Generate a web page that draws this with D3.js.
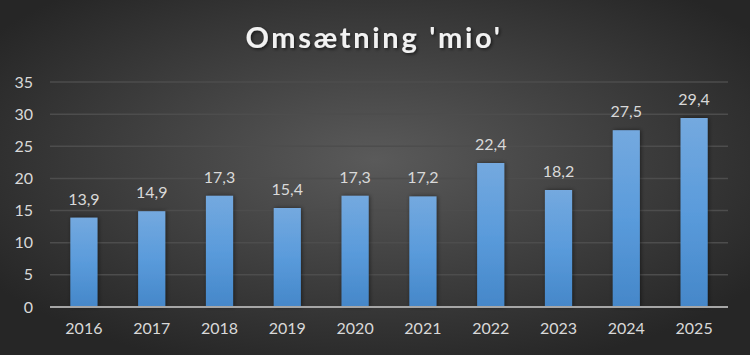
<!DOCTYPE html>
<html>
<head>
<meta charset="utf-8">
<script src="https://cdn.jsdelivr.net/npm/d3@7"></script>
<style>
  body { margin: 0; background: #2a2a2a; }
  svg { display: block; font-family: Lato, "Open Sans", sans-serif; }
</style>
</head>
<body>
<div id="vis"></div>
<script>
const years = ["2016", "2017", "2018", "2019", "2020", "2021", "2022", "2023", "2024", "2025"];
const revenue = [13.9, 14.9, 17.3, 15.4, 17.3, 17.2, 22.4, 18.2, 27.5, 29.4];
const yTicks = [0, 5, 10, 15, 20, 25, 30, 35];
const title = "Omsætning 'mio'";

const width = 750, height = 355;
const margin = { top: 82, right: 22, bottom: 48, left: 50 };
const innerW = width - margin.left - margin.right;
const innerH = height - margin.top - margin.bottom;

const svg = d3.select("#vis").append("svg")
  .attr("width", width)
  .attr("height", height);

const defs = svg.append("defs");

const bg = defs.append("radialGradient")
  .attr("id", "bg")
  .attr("cx", "50%").attr("cy", "45%").attr("r", "62%");
bg.append("stop").attr("offset", "0%").attr("stop-color", "#5a5a5a");
bg.append("stop").attr("offset", "100%").attr("stop-color", "#262626");

const barGrad = defs.append("linearGradient")
  .attr("id", "bar")
  .attr("x1", 0).attr("y1", 0).attr("x2", 0).attr("y2", 1);
barGrad.append("stop").attr("offset", "0%").attr("stop-color", "#74a9df");
barGrad.append("stop").attr("offset", "50%").attr("stop-color", "#5a9bdb");
barGrad.append("stop").attr("offset", "100%").attr("stop-color", "#4587c9");

const shadow = defs.append("filter").attr("id", "shadow")
  .attr("x", "-30%").attr("y", "-30%").attr("width", "160%").attr("height", "160%");
shadow.append("feDropShadow")
  .attr("dx", 1.5).attr("dy", 1.5).attr("stdDeviation", 1.5)
  .attr("flood-color", "#000").attr("flood-opacity", 0.55);

const barShadow = defs.append("filter").attr("id", "barShadow")
  .attr("x", "-30%").attr("y", "-10%").attr("width", "160%").attr("height", "120%");
barShadow.append("feDropShadow")
  .attr("dx", 1).attr("dy", 0).attr("stdDeviation", 2)
  .attr("flood-color", "#000").attr("flood-opacity", 0.5);

svg.append("rect")
  .attr("width", width).attr("height", height)
  .attr("fill", "url(#bg)");

svg.append("text")
  .attr("x", width / 2 - 1)
  .attr("y", 48)
  .attr("text-anchor", "middle")
  .attr("fill", "#f2f2f2")
  .attr("font-size", 29)
  .attr("font-weight", "bold")
  .attr("letter-spacing", 2.7)
  .attr("filter", "url(#shadow)")
  .text(title);

const g = svg.append("g")
  .attr("transform", "translate(" + margin.left + "," + margin.top + ")");

const x = d3.scaleBand()
  .domain(years)
  .range([0, innerW])
  .paddingInner(0.6)
  .paddingOuter(0.3);

const y = d3.scaleLinear()
  .domain([0, 35])
  .range([innerH, 0]);

// gridlines
g.selectAll(".grid")
  .data(yTicks.filter(d => d > 0))
  .enter()
  .append("line")
  .attr("x1", 0).attr("x2", innerW)
  .attr("y1", d => y(d)).attr("y2", d => y(d))
  .attr("stroke", "#4d4d4d")
  .attr("stroke-width", 1.5);

// y axis labels
const yAxis = g.append("g")
  .call(d3.axisLeft(y).tickValues(yTicks).tickSize(0).tickPadding(17));
yAxis.select(".domain").remove();
yAxis.selectAll("text")
  .attr("fill", "#d9d9d9")
  .attr("font-size", 16)
  .attr("font-family", "Lato, 'Open Sans', sans-serif");

// bars
g.selectAll(".bar")
  .data(revenue)
  .enter()
  .append("rect")
  .attr("class", "bar")
  .attr("x", (d, i) => x(years[i]))
  .attr("y", d => y(d))
  .attr("width", x.bandwidth())
  .attr("height", d => innerH - y(d))
  .attr("fill", "url(#bar)")
  .attr("filter", "url(#barShadow)");

// value labels
g.selectAll(".value")
  .data(revenue)
  .enter()
  .append("text")
  .attr("x", (d, i) => x(years[i]) + x.bandwidth() / 2)
  .attr("y", d => y(d) - 13)
  .attr("text-anchor", "middle")
  .attr("fill", "#d9d9d9")
  .attr("font-size", 16)
  .text(d => d3.format(".1f")(d).replace(".", ","));

// baseline
g.append("line")
  .attr("x1", 0).attr("x2", innerW)
  .attr("y1", y(0)).attr("y2", y(0))
  .attr("stroke", "#a6a6a6")
  .attr("stroke-width", 2);

// x axis labels
const xAxis = g.append("g")
  .attr("transform", "translate(0," + innerH + ")")
  .call(d3.axisBottom(x).tickSize(0).tickPadding(16));
xAxis.select(".domain").remove();
xAxis.selectAll("text")
  .attr("fill", "#d9d9d9")
  .attr("font-size", 16)
  .attr("font-family", "Lato, 'Open Sans', sans-serif");
</script>
</body>
</html>
